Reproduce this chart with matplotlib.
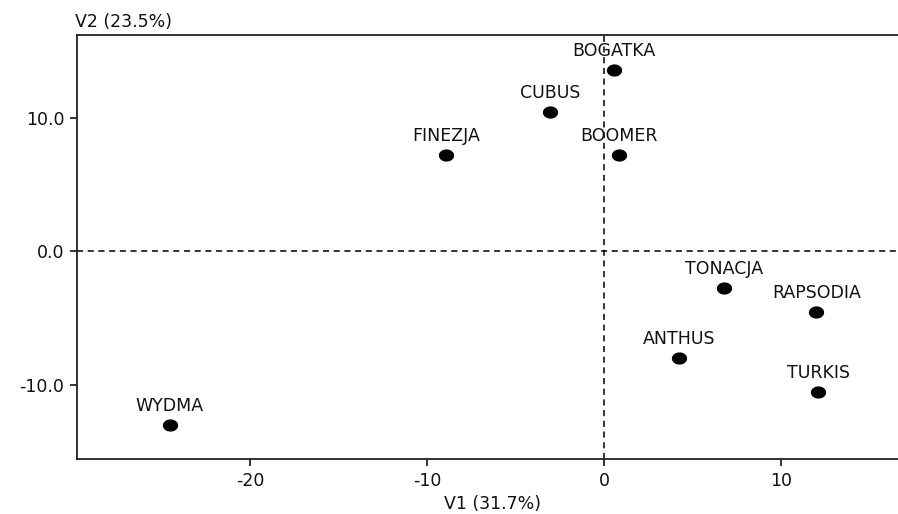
import matplotlib
matplotlib.use('Agg')
import matplotlib.pyplot as plt
from matplotlib.path import Path
import numpy as np

plt.rcParams['font.family'] = ['DejaVu Sans']

# cultivar scores on the first two axes
names = ['BOGATKA', 'CUBUS', 'FINEZJA', 'BOOMER', 'TONACJA',
         'RAPSODIA', 'ANTHUS', 'TURKIS', 'WYDMA']
v1 = [0.56, -3.05, -8.93, 0.85, 6.78, 11.98, 4.24, 12.09, -24.52]
v2 = [13.57, 10.43, 7.22, 7.22, -2.73, -4.53, -7.97, -10.5, -12.98]

xticks = [-20, -10, 0, 10]
yticks = [-10.0, 0.0, 10.0]
xlabel = 'V1 (31.7%)'
ylabel = 'V2 (23.5%)'

# slightly flattened dot, like the original
t = np.linspace(0, 2 * np.pi, 40)
dot = Path(np.column_stack([np.cos(t), 0.78 * np.sin(t)]))

fig = plt.figure(figsize=(8.98, 5.14), dpi=100)
ax = fig.add_axes([77/898, 1 - 459/514, 1 - 77/898, (459 - 35)/514])

ax.set_xlim(-29.77, 16.6)
ax.set_ylim(-15.52, 16.19)

ax.axvline(0, color='black', lw=1.1, ls=(0, (4, 3)), zorder=1)
ax.axhline(0, color='black', lw=1.1, ls=(0, (4, 3)), zorder=1)

ax.plot(v1, v2, ls='none', marker=dot, color='black', ms=10, zorder=3)
for n, x, y in zip(names, v1, v2):
    ax.annotate(n, (x, y), xytext=(0, 7), textcoords='offset points',
                ha='center', va='bottom', fontsize=12.5, color='#111111')

ax.set_xticks(xticks)
ax.set_xticklabels([str(t) for t in xticks])
ax.set_yticks(yticks)
ax.set_yticklabels(['%.1f' % t for t in yticks])
ax.tick_params(direction='out', length=5, width=1.2, labelsize=12.5,
               colors='#111111', pad=4)

ax.spines['right'].set_visible(False)
for s in ['left', 'bottom', 'top']:
    ax.spines[s].set_linewidth(1.3)
    ax.spines[s].set_color('#222222')

fig.text(75/898, 1 - 22/514, ylabel, fontsize=12.5, ha='left', va='center',
         color='#111111')
fig.text(493/898, 1 - 504/514, xlabel, fontsize=12.5, ha='center',
         va='center', color='#111111')

fig.savefig('out.png', dpi=100)
